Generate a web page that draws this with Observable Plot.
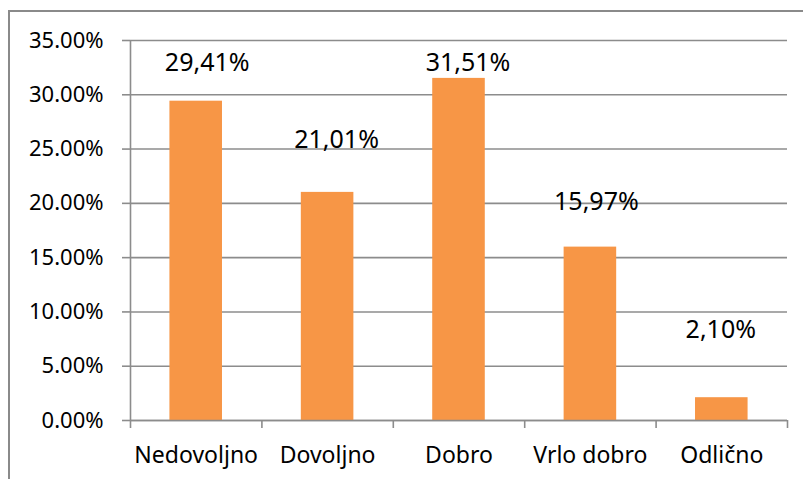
<!DOCTYPE html>
<html>
<head>
<meta charset="utf-8">
<script src="https://cdn.jsdelivr.net/npm/d3@7"></script>
<script src="https://cdn.jsdelivr.net/npm/@observablehq/plot@0.6"></script>
<style>
  html, body { margin: 0; padding: 0; background: #fff; overflow: hidden; }
  #wrap { position: relative; width: 803px; height: 479px; }
  #frame { position: absolute; left: 8px; top: 10px; width: 900px; height: 600px; border: 2px solid #8a8a8a; box-sizing: border-box; }
  #chart { position: absolute; left: 0; top: 0; }
</style>
</head>
<body>
<div id="wrap"><div id="frame"></div><div id="chart"></div></div>
<script>
const categories = ["Nedovoljno", "Dovoljno", "Dobro", "Vrlo dobro", "Odlično"];
const values = [29.41, 21.01, 31.51, 15.97, 2.10];
const yTicks = [0, 5, 10, 15, 20, 25, 30, 35];
// data-label anchor heights (in %) (labels were placed manually)
const labelAt = [32.97, 25.8, 32.9, 20.1, 8.3];
const labelDx = [11, 9, 9, 6, -1];

const rows = categories.map((c, i) => ({ c, i, v: values[i], la: labelAt[i] }));
const font = "'Noto Sans', sans-serif";

const plot = Plot.plot({
  width: 803,
  height: 479,
  marginLeft: 130,
  marginRight: 16,
  marginTop: 40,
  marginBottom: 59,
  style: { fontFamily: font, background: "transparent", color: "#000" },
  x: { type: "linear", domain: [0, categories.length], axis: null },
  y: { type: "linear", domain: [0, 35], axis: null },
  marks: [
    Plot.gridY(yTicks, { stroke: "#8c8c8c", strokeOpacity: 1, strokeWidth: 1.6 }),
    Plot.rectY(rows, { x1: d => d.i + 0.3, x2: d => d.i + 0.7, y1: 0, y2: "v", fill: "#F79646" }),
    Plot.ruleX([0], { y1: 0, y2: 35, stroke: "#8c8c8c", strokeWidth: 1.6 }),
    Plot.ruleY([0], { stroke: "#8c8c8c", strokeWidth: 1.6 }),
    Plot.ruleX(d3.range(categories.length + 1), { y1: 0, y2: 0, insetBottom: -8, stroke: "#8c8c8c", strokeWidth: 1.6 }),
    Plot.axisY(yTicks, {
      tickSize: 8, tickPadding: 19, stroke: "#8c8c8c", strokeWidth: 1.6,
      tickFormat: d => d.toFixed(2) + "%", fontSize: 22, fill: "#000", label: null
    }),
    Plot.text(rows, { x: d => d.i + 0.5, y: 0, text: "c", dy: 35, fontSize: 23, fill: "#000" }),
    ...rows.map((r, k) => Plot.text([r], {
      x: d => d.i + 0.5, y: "la", text: d => d.v.toFixed(2).replace(".", ",") + "%",
      fontSize: 25, fill: "#000", dx: labelDx[k]
    }))
  ]
});
document.getElementById("chart").appendChild(plot);
</script>
</body>
</html>
